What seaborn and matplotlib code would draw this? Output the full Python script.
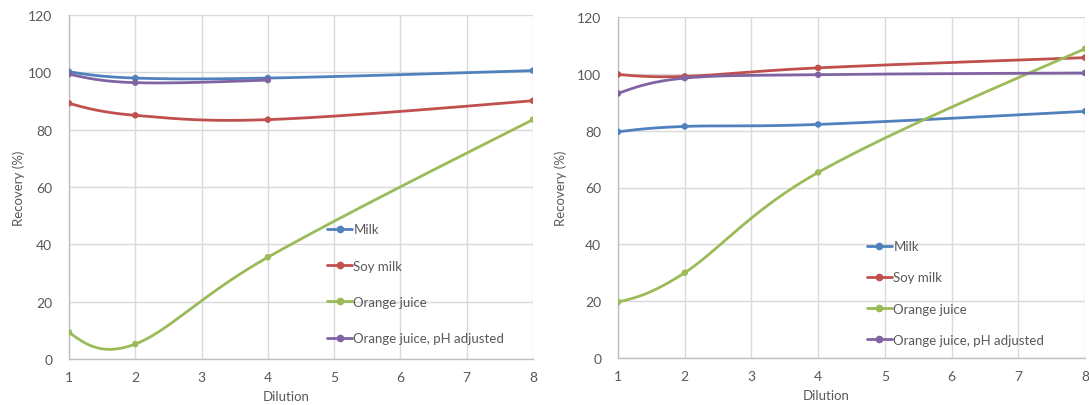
import numpy as np
import pandas as pd
import matplotlib
matplotlib.use("Agg")
import matplotlib.pyplot as plt
from matplotlib.lines import Line2D
import seaborn as sns

sns.set_theme(style="white")
plt.rcParams["font.family"] = ["Lato", "DejaVu Sans"]

# ---- data -------------------------------------------------------------
dilution = [1, 2, 4, 8]
series_names = ["Milk", "Soy milk", "Orange juice", "Orange juice, pH adjusted"]
colors = ["#4F81BD", "#C0504D", "#9BBB59", "#8064A2"]

# left panel
left_milk = [100.2, 98.0, 98.0, 100.6]
left_soy = [89.2, 85.0, 83.5, 90.1]
left_oj = [9.3, 5.2, 35.5, 83.5]
left_oj_ph = [99.4, 96.4, 97.3]          # no value at dilution 8

# right panel
right_milk = [79.6, 81.5, 82.2, 86.8]
right_soy = [99.8, 99.1, 102.1, 105.7]
right_oj = [19.7, 30.0, 65.3, 108.8]
right_oj_ph = [93.1, 98.5, 99.7, 100.3]

y_ticks = [0, 20, 40, 60, 80, 100, 120]
x_ticks = [1, 2, 3, 4, 5, 6, 7, 8]

TEXT = "#595959"


def smooth_curve(xs, ys, n=60):
    """Bezier smoothing through the points (cardinal tangents, natural ends)."""
    P = np.column_stack([xs, ys]).astype(float)
    m = len(P)
    T = np.zeros_like(P)
    if m == 2:
        T[:] = P[1] - P[0]
    else:
        for i in range(1, m - 1):
            T[i] = (P[i + 1] - P[i - 1]) / 2
        T[0] = (3 * (P[1] - P[0]) - T[1]) / 2
        T[-1] = (3 * (P[-1] - P[-2]) - T[-2]) / 2
    t = np.linspace(0, 1, n)[:, None]
    pts = []
    for i in range(m - 1):
        b0, b3 = P[i], P[i + 1]
        b1, b2 = b0 + T[i] / 3, b3 - T[i + 1] / 3
        seg = ((1 - t) ** 3) * b0 + 3 * ((1 - t) ** 2) * t * b1 \
            + 3 * (1 - t) * t ** 2 * b2 + t ** 3 * b3
        pts.append(seg if i == 0 else seg[1:])
    pts = np.vstack(pts)
    return pts[:, 0], pts[:, 1]


def build_frames(values):
    curves, points = [], []
    for name, ys in zip(series_names, values):
        xs = dilution[:len(ys)]
        cx, cy = smooth_curve(xs, ys)
        curves.append(pd.DataFrame({"x": cx, "y": cy, "series": name}))
        points.append(pd.DataFrame({"x": xs, "y": ys, "series": name}))
    return pd.concat(curves, ignore_index=True), pd.concat(points, ignore_index=True)


panels = [
    dict(values=[left_milk, left_soy, left_oj, left_oj_ph],
         rect=[69 / 1089, 46 / 406, 464 / 1089, 344 / 406],
         legend_anchor=(0.556, 0.395), labelspacing=1.85,
         xlabel_x=0.468, ylabel_x=-0.095),
    dict(values=[right_milk, right_soy, right_oj, right_oj_ph],
         rect=[618 / 1089, 47 / 406, 467 / 1089, 341 / 406],
         legend_anchor=(0.533, 0.345), labelspacing=1.45,
         xlabel_x=0.445, ylabel_x=-0.11),
]

fig = plt.figure(figsize=(10.89, 4.06), dpi=100)
palette = dict(zip(series_names, colors))

for p in panels:
    ax = fig.add_axes(p["rect"])
    curves, points = build_frames(p["values"])
    sns.lineplot(data=curves, x="x", y="y", hue="series", palette=palette,
                 hue_order=series_names, units="series", estimator=None,
                 sort=False, linewidth=2.0, legend=False, ax=ax, zorder=3)
    sns.scatterplot(data=points, x="x", y="y", hue="series", palette=palette,
                    hue_order=series_names, s=22, linewidth=0, legend=False,
                    ax=ax, zorder=4)

    ax.set_xlim(1, 8)
    ax.set_ylim(0, 120)
    ax.set_xticks(x_ticks)
    ax.set_yticks(y_ticks)
    ax.grid(True, color="#d9d9d9", linewidth=1)
    ax.set_axisbelow(True)
    for side in ("top", "right"):
        ax.spines[side].set_visible(False)
    for side in ("left", "bottom"):
        ax.spines[side].set_color("#bfbfbf")
        ax.spines[side].set_linewidth(1)
    ax.tick_params(axis="both", length=0, labelsize=10, colors=TEXT)
    ax.tick_params(axis="y", pad=12)
    ax.tick_params(axis="x", pad=9)

    ax.set_xlabel("Dilution", fontsize=9.5, color=TEXT)
    ax.set_ylabel("Recovery (%)", fontsize=9.5, color=TEXT)
    ax.xaxis.set_label_coords(p["xlabel_x"], -0.09)
    ax.yaxis.set_label_coords(p["ylabel_x"], 0.5)

    handles = [Line2D([0], [0], color=c, linewidth=2, marker="o",
                      markersize=4.5) for c in colors]
    ax.legend(handles, series_names, loc="upper left",
              bbox_to_anchor=p["legend_anchor"], frameon=False,
              fontsize=9.5, labelcolor=TEXT, handlelength=1.9,
              handletextpad=0.1, labelspacing=p["labelspacing"],
              borderpad=0, borderaxespad=0)

fig.savefig("out.png", dpi=100)
